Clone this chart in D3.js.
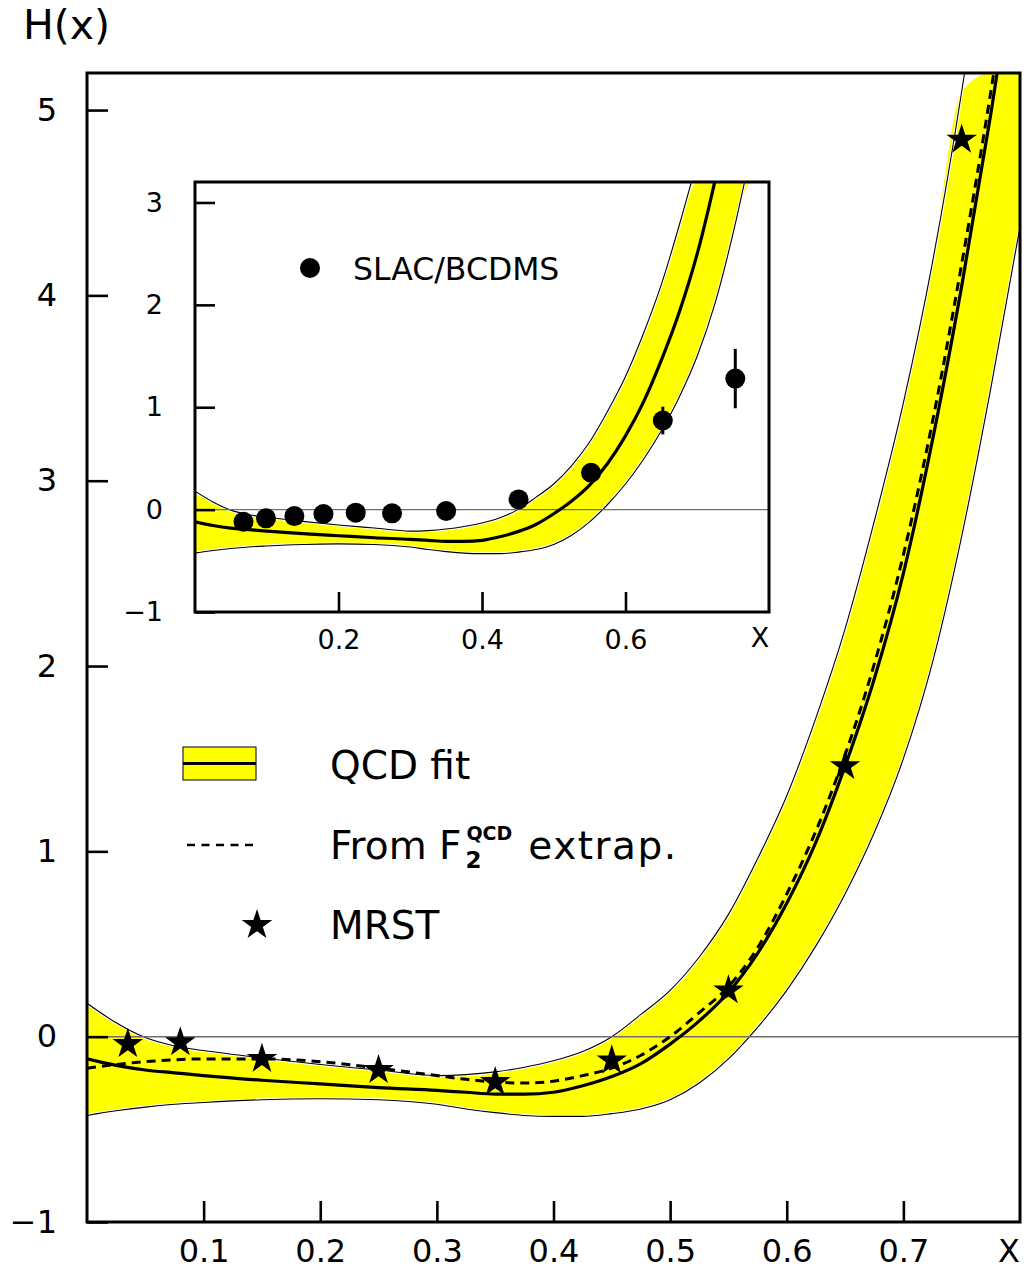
<!DOCTYPE html>
<html><head><meta charset="utf-8">
<script src="https://cdn.jsdelivr.net/npm/d3@7"></script>
<style>
body{margin:0;background:#fff}
text{font-family:"DejaVu Sans",sans-serif;fill:#000}
</style>
</head><body>
<svg id="c" width="1024" height="1273"></svg>
<script>
// ---- data ----
const xGrid      = [0, 0.025, 0.05, 0.075, 0.1, 0.15, 0.2, 0.25, 0.3, 0.325, 0.35, 0.375, 0.4, 0.425, 0.45, 0.475, 0.5, 0.525, 0.55, 0.575, 0.6, 0.625, 0.65, 0.675, 0.7, 0.725, 0.75, 0.775, 0.8];
const fitCentral = [-0.12, -0.155, -0.18, -0.195, -0.21, -0.235, -0.255, -0.275, -0.29, -0.30, -0.31, -0.31, -0.30, -0.265, -0.215, -0.145, -0.04, 0.085, 0.24, 0.45, 0.72, 1.05, 1.46, 1.93, 2.5, 3.22, 4.05, 4.98, 6.0];
const fitUpper   = [0.18, 0.075, -0.005, -0.05, -0.075, -0.115, -0.15, -0.18, -0.21, -0.205, -0.19, -0.165, -0.13, -0.08, 0.0, 0.12, 0.25, 0.43, 0.66, 0.96, 1.3, 1.72, 2.2, 2.78, 3.42, 4.18, 5.1, 6.2, 7.4];
const fitLower   = [-0.425, -0.40, -0.38, -0.365, -0.355, -0.34, -0.335, -0.34, -0.365, -0.39, -0.41, -0.425, -0.43, -0.43, -0.415, -0.39, -0.34, -0.25, -0.12, 0.05, 0.25, 0.49, 0.77, 1.1, 1.5, 2.02, 2.7, 3.5, 4.37];
const extrapF2   = [-0.17, -0.15, -0.135, -0.125, -0.12, -0.12, -0.135, -0.17, -0.21, -0.23, -0.245, -0.25, -0.24, -0.21, -0.17, -0.10, 0.0, 0.13, 0.27, 0.48, 0.77, 1.11, 1.52, 2.01, 2.6, 3.32, 4.17, 5.1, 6.15];

const mrstX = [0.035, 0.08, 0.15, 0.25, 0.35, 0.45, 0.55, 0.65, 0.75];
const mrstH = [-0.04, -0.03, -0.12, -0.18, -0.245, -0.128, 0.25, 1.46, 4.84];

const slacX   = [0.0676, 0.099, 0.1385, 0.179, 0.224, 0.2746, 0.35, 0.451, 0.552, 0.652, 0.753];
const slacH   = [-0.118, -0.085, -0.063, -0.043, -0.03, -0.036, -0.014, 0.10, 0.36, 0.87, 1.28];
const slacErr = [0.03, 0.03, 0.03, 0.03, 0.03, 0.03, 0.03, 0.03, 0.05, 0.135, 0.29];

const mainYTicks  = [-1, 0, 1, 2, 3, 4, 5];
const mainXTicks  = [0.1, 0.2, 0.3, 0.4, 0.5, 0.6, 0.7];
const insetYTicks = [-1, 0, 1, 2, 3];
const insetXTicks = [0.2, 0.4, 0.6];

const legendLabels = ["QCD fit", "From F", "MRST"];
const insetLegend = "SLAC/BCDMS";

// ---- drawing ----
const svg = d3.select('#c');
const band = xGrid.map((x, i) => ({x, c: fitCentral[i], u: fitUpper[i], l: fitLower[i], e: extrapF2[i]}));

function panel(box, yDom, o) {
  const g = svg.append('g');
  const x = d3.scaleLinear().domain([0, 0.8]).range([box.l, box.r]);
  const y = d3.scaleLinear().domain(yDom).range([box.b, box.t]);
  const cl = (v) => Math.max(yDom[0], Math.min(yDom[1], v));
  const id = 'clip' + o.name;
  svg.append('defs').append('clipPath').attr('id', id)
    .append('rect').attr('x', box.l).attr('y', box.t).attr('width', box.r - box.l).attr('height', box.b - box.t);
  g.append('rect').attr('x', box.l).attr('y', box.t).attr('width', box.r - box.l).attr('height', box.b - box.t).attr('fill', '#fff');
  const c = g.append('g').attr('clip-path', `url(#${id})`);
  const curve = d3.curveMonotoneX;
  c.append('path').datum(band)
    .attr('d', d3.area().curve(curve).x(d => x(d.x)).y0(d => y(cl(d.l))).y1(d => y(cl(d.u))))
    .attr('fill', '#ffff00');
  ['u', 'l'].forEach(k => {
    const ln = d3.line().curve(curve).x(d => x(d.x)).y(d => y(d[k]));
    c.append('path').datum(band).attr('d', ln).attr('fill', 'none').attr('stroke', '#fff').attr('stroke-width', 3);
    c.append('path').datum(band).attr('d', ln).attr('fill', 'none').attr('stroke', '#000').attr('stroke-width', 1.1);
  });
  c.append('line').attr('x1', box.l).attr('x2', box.r).attr('y1', y(0)).attr('y2', y(0))
    .attr('stroke', '#6e6e6e').attr('stroke-width', 1.4);
  c.append('path').datum(band)
    .attr('d', d3.line().curve(curve).x(d => x(d.x)).y(d => y(d.c)))
    .attr('fill', 'none').attr('stroke', '#000').attr('stroke-width', 3.2);
  if (o.dashed) {
    c.append('path').datum(band)
      .attr('d', d3.line().curve(curve).x(d => x(d.x)).y(d => y(d.e)))
      .attr('fill', 'none').attr('stroke', '#000').attr('stroke-width', 3).attr('stroke-dasharray', '9,6');
  }
  o.markers && o.markers(c, x, y);
  // axes (ticks inward)
  const ax = g.append('g').attr('transform', `translate(${box.l},0)`)
    .call(d3.axisLeft(y).tickValues(o.yTicks).tickSize(-o.tick).tickPadding(o.ypad).tickFormat(d3.format('d')));
  const bx = g.append('g').attr('transform', `translate(0,${box.b})`)
    .call(d3.axisBottom(x).tickValues(o.xTicks).tickSize(-o.tick).tickPadding(o.xpad).tickFormat(d3.format('.1f')));
  [ax, bx].forEach(a => {
    a.select('.domain').remove();
    a.selectAll('line').attr('stroke', '#000').attr('stroke-width', 2.6);
    a.selectAll('text').attr('font-size', o.fs).attr('font-family', '"DejaVu Sans",sans-serif').attr('fill', '#000');
  });
  g.append('text').attr('x', o.xLabX).attr('y', o.xLabY).attr('text-anchor', 'middle').attr('font-size', o.fs).text('X');
  g.append('rect').attr('x', box.l).attr('y', box.t).attr('width', box.r - box.l).attr('height', box.b - box.t)
    .attr('fill', 'none').attr('stroke', '#000').attr('stroke-width', 3);
  return {g, x, y};
}

const starSym = d3.symbol(d3.symbolStar, 290);

// main
panel({l: 87, r: 1020, t: 73, b: 1222}, [-1, 5.2], {
  name: 'main', dashed: true, yTicks: mainYTicks, xTicks: mainXTicks, tick: 21, ypad: 30, xpad: 17, fs: 32,
  xLabX: 1009, xLabY: 1262,
  markers: (c, x, y) => {
    c.selectAll('path.star').data(mrstX).enter().append('path').attr('class', 'star')
      .attr('d', starSym).attr('transform', (d, i) => `translate(${x(d)},${y(mrstH[i])})`).attr('fill', '#000');
  }
});

// inset
panel({l: 195, r: 769, t: 182, b: 612}, [-1, 3.2], {
  name: 'inset', dashed: false, yTicks: insetYTicks, xTicks: insetXTicks, tick: 20, ypad: 32, xpad: 18, fs: 27,
  xLabX: 760, xLabY: 647,
  markers: (c, x, y) => {
    c.selectAll('line.err').data(slacX).enter().append('line').attr('class', 'err')
      .attr('x1', d => x(d)).attr('x2', d => x(d))
      .attr('y1', (d, i) => y(slacH[i] - slacErr[i])).attr('y2', (d, i) => y(slacH[i] + slacErr[i]))
      .attr('stroke', '#000').attr('stroke-width', 3);
    c.selectAll('circle.pt').data(slacX).enter().append('circle').attr('class', 'pt')
      .attr('cx', d => x(d)).attr('cy', (d, i) => y(slacH[i])).attr('r', 10).attr('fill', '#000');
  }
});

// inset legend
svg.append('circle').attr('cx', 310).attr('cy', 268).attr('r', 10).attr('fill', '#000');
svg.append('text').attr('x', 353).attr('y', 280).attr('font-size', 31.5).text(insetLegend);

// title
svg.append('text').attr('x', 23).attr('y', 39).attr('font-size', 41).text('H(x)');

// main legend
const lg = svg.append('g');
lg.append('rect').attr('x', 183).attr('y', 747).attr('width', 73).attr('height', 33)
  .attr('fill', '#ffff00').attr('stroke', '#000').attr('stroke-width', 1);
lg.append('line').attr('x1', 183).attr('x2', 256).attr('y1', 763.5).attr('y2', 763.5).attr('stroke', '#000').attr('stroke-width', 3);
lg.append('text').attr('x', 330).attr('y', 779).attr('font-size', 39).text(legendLabels[0]);

lg.append('line').attr('x1', 187).attr('x2', 258).attr('y1', 845).attr('y2', 845)
  .attr('stroke', '#000').attr('stroke-width', 2.5).attr('stroke-dasharray', '8,6.5');
const t1 = lg.append('text').attr('x', 330).attr('y', 859).attr('font-size', 39).text(legendLabels[1]);
const w1 = t1.node().getComputedTextLength();
const sx = 330 + w1 + 4;
const sub = lg.append('text').attr('x', sx).attr('y', 868).attr('font-size', 23).attr('font-weight', 'bold').text('2');
const sup = lg.append('text').attr('x', sx + 1).attr('y', 840).attr('font-size', 19).attr('font-weight', 'bold').text('QCD');
const wsup = Math.max(sub.node().getComputedTextLength(), sup.node().getComputedTextLength() + 1);
lg.append('text').attr('x', sx + wsup + 16).attr('y', 859).attr('font-size', 39).attr('letter-spacing', 1.5).text('extrap.');

lg.append('path').attr('d', starSym).attr('transform', 'translate(257,925)').attr('fill', '#000');
lg.append('text').attr('x', 330).attr('y', 939).attr('font-size', 39).text(legendLabels[2]);
</script>
</body></html>
